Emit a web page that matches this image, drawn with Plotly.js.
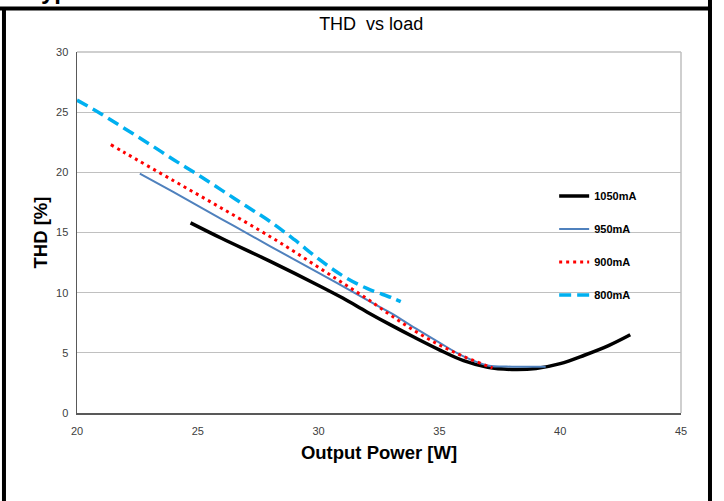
<!DOCTYPE html>
<html>
<head>
<meta charset="utf-8">
<script src="https://cdn.plot.ly/plotly-3.0.1.min.js"></script>
<style>
  html, body { margin: 0; padding: 0; background: #ffffff; }
  #chart { width: 724px; height: 501px; }
</style>
</head>
<body>
<div id="chart"></div>
<script>
// ---- data ----
var seriesNames = ["1050mA", "950mA", "900mA", "800mA"];

var x1050 = [24.7, 26, 28, 30, 31, 32, 33, 34, 35, 36, 37, 38, 39, 40, 41, 42, 42.9];
var y1050 = [15.8, 14.5, 12.6, 10.6, 9.55, 8.4, 7.3, 6.25, 5.25, 4.35, 3.8, 3.62, 3.7, 4.1, 4.8, 5.6, 6.5];

var x950 = [22.6, 24, 26, 28, 30, 32, 33, 34, 35, 36, 37, 38, 39.4];
var y950 = [19.9, 18.35, 16.1, 13.85, 11.65, 9.4, 8.3, 7.05, 5.85, 4.7, 3.95, 3.85, 3.85];

var x900 = [21.4, 22, 24, 26, 28, 29, 30, 31, 32, 33, 34, 35, 36, 37, 37.2];
var y900 = [22.3, 21.6, 19.3, 17.0, 14.65, 13.4, 12.1, 10.8, 9.5, 8.1, 6.8, 5.65, 4.7, 3.9, 3.75];

var x800 = [20, 21, 22, 23, 24, 25, 26, 27, 28, 29, 30, 31, 32, 33, 33.4];
var y800 = [26.0, 24.85, 23.6, 22.35, 21.05, 19.8, 18.5, 17.2, 15.9, 14.4, 12.8, 11.4, 10.35, 9.6, 9.25];

var xTicks = [20, 25, 30, 35, 40, 45];
var yTicks = [0, 5, 10, 15, 20, 25, 30];

var chartTitle = "THD  vs load";
var xTitle = "Output Power [W]";
var yTitle = "THD [%]";
var headerText = "Typical";

// ---- traces ----
var traces = [
  { x: x1050, y: y1050, name: seriesNames[0], legendgroup: "a",
    mode: "lines", line: { color: "#000000", width: 3.5, shape: "spline" } },
  { x: x950, y: y950, name: seriesNames[1], legendgroup: "b",
    mode: "lines", line: { color: "#4F81BD", width: 2, shape: "spline" } },
  { x: x900, y: y900, name: seriesNames[2], legendgroup: "c",
    mode: "lines", line: { color: "#FF0000", width: 3, dash: "3px,4px", shape: "spline" } },
  { x: x800, y: y800, name: seriesNames[3], legendgroup: "d",
    mode: "lines", line: { color: "#00B0F0", width: 3.5, dash: "12px,6px", shape: "spline" } }
];

var baseFont = "'Liberation Sans', Arial, sans-serif";

var layout = {
  width: 724,
  height: 501,
  paper_bgcolor: "#ffffff",
  plot_bgcolor: "#ffffff",
  margin: { l: 77, r: 43, t: 52, b: 88 },
  showlegend: true,
  title: {
    text: chartTitle,
    font: { family: baseFont, size: 18, color: "#000000" },
    x: 0.487, xref: "paper", xanchor: "center",
    y: 0.965, yref: "container", yanchor: "top"
  },
  xaxis: {
    range: [20, 45],
    tickvals: xTicks,
    ticktext: xTicks.map(String),
    showgrid: false,
    zeroline: false,
    showline: true,
    linecolor: "#595959",
    linewidth: 1.5,
    ticks: "",
    tickfont: { family: baseFont, size: 11, color: "#404040" },
    ticklabelstandoff: 7,
    title: { text: xTitle, font: { family: baseFont, size: 18.5, color: "#000000", weight: "bold" }, standoff: 10 },
    fixedrange: true
  },
  yaxis: {
    range: [0, 30],
    tickvals: yTicks,
    ticktext: yTicks.map(String),
    showgrid: true,
    gridcolor: "#c0c0c0",
    gridwidth: 1,
    zeroline: false,
    showline: true,
    linecolor: "#595959",
    linewidth: 1.5,
    ticks: "",
    tickfont: { family: baseFont, size: 11, color: "#404040" },
    ticklabelstandoff: 5,
    title: { text: yTitle, font: { family: baseFont, size: 18.5, color: "#000000", weight: "bold" }, standoff: 3 },
    fixedrange: true
  },
  legend: {
    x: 0.79, xanchor: "left",
    y: 0.641, yanchor: "top",
    bgcolor: "rgba(0,0,0,0)",
    borderwidth: 0,
    tracegroupgap: 14,
    font: { family: baseFont, size: 11, color: "#000000", weight: "bold" }
  },
  shapes: [
    // light frame on top and right of the plot area
    { type: "line", xref: "paper", yref: "paper", x0: 0, x1: 1, y0: 1, y1: 1,
      line: { color: "#bfbfbf", width: 1.5 } },
    { type: "line", xref: "paper", yref: "paper", x0: 1, x1: 1, y0: 0, y1: 1,
      line: { color: "#bfbfbf", width: 1.5 } },
    // outer black page frame
    { type: "line", xref: "paper", yref: "paper", x0: -0.1275, x1: 1.0513, y0: 1.1205, y1: 1.1205,
      line: { color: "#000000", width: 4 } },
    { type: "line", xref: "paper", yref: "paper", x0: -0.1209, x1: -0.1209, y0: 1.1205, y1: -0.25,
      line: { color: "#000000", width: 4 } },
    { type: "line", xref: "paper", yref: "paper", x0: 1.048, x1: 1.048, y0: 1.15, y1: -0.25,
      line: { color: "#000000", width: 4 } }
  ],
  annotations: [
    { text: headerText, xref: "paper", yref: "paper", x: -0.085, xanchor: "left",
      y: 1.127, yanchor: "bottom", showarrow: false,
      font: { family: baseFont, size: 24, color: "#000000", weight: "bold" } }
  ]
};

Plotly.newPlot("chart", traces, layout, { displayModeBar: false, staticPlot: true });
</script>
</body>
</html>
